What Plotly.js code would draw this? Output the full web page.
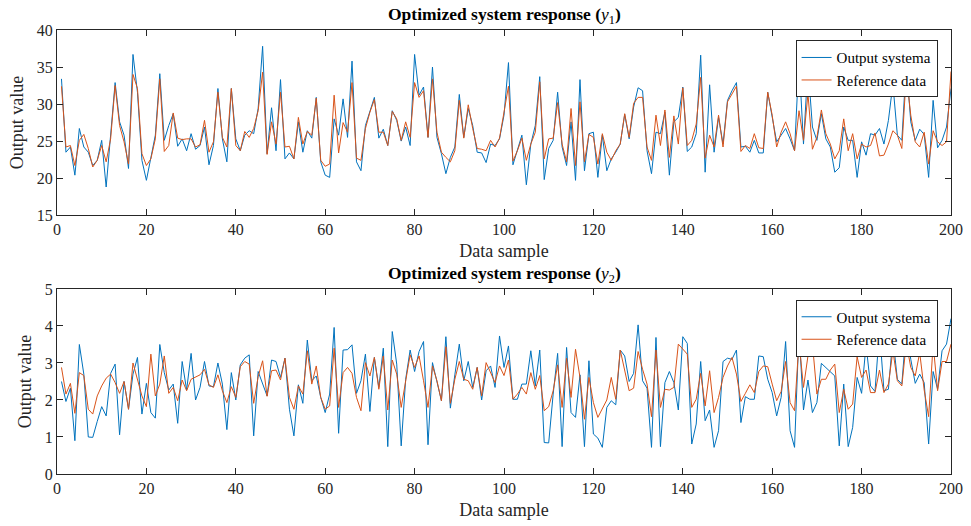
<!DOCTYPE html>
<html>
<head>
<meta charset="utf-8">
<script src="https://cdn.plot.ly/plotly-3.0.1.min.js"></script>
<style>html,body{margin:0;padding:0;background:#fff;}#chart{width:971px;height:526px;}</style>
</head>
<body>
<div id="chart"></div>
<script>
// Top panel (y1)
const y1Output = [33.4,23.5,24.2,20.4,26.7,24.2,23.5,21.7,22.4,25.1,18.8,25.8,32.9,27.6,25.8,21.3,36.7,31.6,22.4,19.7,
22.6,25.8,34.1,25.1,27.1,28.7,24.3,25.3,23.7,26.0,23.9,24.4,26.9,21.8,24.4,32.1,25.3,22.2,32.1,25.3,
23.7,25.8,26.4,26.0,29.4,37.8,23.3,29.5,23.7,33.3,22.6,23.4,22.6,27.6,23.5,26.4,25.4,30.9,22.2,20.4,
20.1,28.0,25.8,30.7,25.5,35.8,22.2,21.0,27.1,29.1,30.9,25.4,26.6,24.4,29.1,27.8,25.0,26.9,24.4,36.7,
31.2,32.3,25.5,35.0,25.5,23.3,20.6,22.8,24.2,31.3,25.5,29.4,27.1,23.5,23.4,22.1,24.6,24.4,25.3,28.5,
35.6,21.8,23.7,25.8,19.1,24.6,27.1,33.7,19.8,24.0,25.1,31.6,24.2,21.7,27.6,19.7,33.3,21.0,26.0,26.2,
20.1,25.8,21.0,22.6,23.5,24.6,28.6,25.3,29.6,32.2,31.8,23.7,20.6,26.2,26.0,28.9,20.4,27.6,28.2,32.3,
23.6,24.2,26.0,36.6,20.8,32.6,23.5,28.2,24.6,30.5,31.8,32.9,24.2,24.3,23.5,25.1,23.4,23.4,31.6,28.0,
24.9,25.8,26.7,25.3,23.7,36.1,24.6,35.2,26.9,25.1,28.7,25.3,24.2,20.8,21.4,26.9,25.1,25.1,20.1,24.9,
23.1,26.0,25.8,26.7,24.6,27.8,32.7,25.8,25.1,35.5,27.6,25.1,26.6,25.9,20.1,30.5,24.1,25.1,26.9,32.1];
const y1Reference = [32.4,24.2,24.4,21.7,25.1,25.9,24.0,21.5,22.4,24.4,22.2,25.3,32.5,27.1,24.9,21.9,34.0,32.1,23.3,21.7,
22.6,25.3,33.4,23.6,24.4,28.8,25.4,25.2,25.3,25.3,24.2,24.5,27.8,23.5,24.9,31.6,25.5,24.2,32.1,24.4,
23.7,26.3,25.5,26.7,29.1,34.3,23.2,27.6,24.6,31.6,24.2,24.3,22.6,28.2,24.6,26.3,25.8,30.8,22.4,21.6,
21.9,31.2,23.4,27.5,26.2,32.9,22.7,22.4,26.7,28.9,30.6,26.2,26.2,24.4,29.0,28.0,25.1,27.6,25.5,32.9,
30.9,31.8,25.5,33.4,26.2,23.5,22.8,22.2,23.7,30.5,25.4,29.9,26.7,24.0,23.9,23.7,25.1,24.2,25.4,28.8,
32.4,22.3,23.7,25.4,22.4,24.6,26.2,33.0,22.6,25.3,25.4,30.2,24.6,22.2,29.4,21.7,30.3,22.2,25.9,25.5,
21.9,26.0,23.5,22.4,23.7,24.6,28.7,25.5,30.1,30.9,30.9,24.2,22.4,28.5,24.4,29.2,22.8,28.4,24.6,32.2,
24.4,25.1,27.3,33.6,22.7,25.8,24.2,28.5,24.2,30.3,31.3,32.4,23.6,24.4,24.0,26.0,24.1,24.0,31.6,28.5,
24.2,26.2,27.6,26.0,23.7,29.1,25.1,31.4,23.9,25.5,29.2,26.0,24.6,22.6,23.7,28.0,23.7,26.0,22.6,24.6,
24.2,24.4,26.1,23.0,23.1,24.6,26.4,25.8,24.0,34.0,28.5,24.9,24.2,26.2,21.9,26.4,24.9,24.4,24.9,34.4];

// Bottom panel (y2)
const y2Output = [2.50,1.96,2.32,0.90,3.50,2.70,1.00,0.99,1.42,1.82,1.57,2.72,2.97,1.06,2.50,1.75,2.70,3.15,1.62,2.45,
1.66,1.51,3.50,2.74,2.27,2.43,1.37,3.04,2.27,3.26,2.00,2.34,3.04,2.38,2.36,3.00,2.43,1.20,2.74,2.00,
2.95,3.13,3.22,1.03,2.77,2.43,2.11,3.08,3.04,2.61,3.13,1.75,1.03,2.41,1.91,3.62,2.52,2.65,2.07,1.66,
2.16,3.96,1.10,3.35,3.36,3.49,2.18,2.52,3.24,1.69,3.15,2.34,3.40,0.74,3.85,2.97,0.76,2.56,3.35,2.77,
3.31,3.58,0.79,3.01,2.47,1.98,3.71,1.78,2.68,3.51,2.52,3.04,2.34,2.88,2.00,2.79,2.92,2.34,3.73,2.88,
3.46,2.02,2.02,2.43,2.43,3.33,2.38,3.35,0.85,0.84,2.16,3.26,0.74,3.42,1.66,1.53,2.68,0.74,3.06,1.08,
0.97,0.72,1.80,1.98,1.87,3.35,3.19,2.50,2.72,4.03,2.52,2.32,0.72,3.69,0.74,2.47,2.77,2.47,1.73,3.71,
3.53,0.81,1.35,3.04,1.44,1.73,0.72,1.17,3.04,3.13,3.10,3.35,1.39,2.09,2.02,2.02,3.19,3.17,2.56,2.20,
1.57,2.07,3.58,1.17,0.72,3.87,1.73,2.54,1.66,1.93,2.99,2.88,2.77,2.65,0.76,2.43,0.74,1.26,2.61,2.18,
3.49,2.38,2.23,3.90,2.25,2.29,3.69,2.56,2.43,3.95,3.10,2.45,2.70,2.47,0.81,2.77,2.29,3.33,3.51,4.20];
const y2Reference = [2.88,2.16,2.45,1.64,2.74,2.66,1.75,1.62,2.11,2.38,2.59,2.70,2.47,2.18,2.50,1.75,3.00,2.52,2.11,1.82,
3.24,2.11,2.43,3.19,2.18,2.34,1.98,2.54,2.25,2.56,2.61,2.68,2.83,2.41,2.34,2.68,2.25,1.93,2.36,2.07,
2.90,3.04,2.97,1.91,2.63,3.06,2.10,2.79,2.81,2.54,3.13,2.07,1.75,2.38,2.16,3.33,2.43,2.92,2.07,1.75,
1.84,3.40,1.80,2.74,2.88,2.72,2.07,1.71,3.01,2.65,3.15,2.29,3.19,1.73,3.08,2.70,1.80,2.47,3.22,2.88,
3.19,2.52,1.80,2.92,2.52,1.98,3.44,1.91,2.56,3.04,2.56,2.52,2.29,2.88,2.11,3.01,2.72,2.47,2.92,2.66,
3.08,2.02,2.16,2.34,2.16,2.74,2.29,2.66,1.71,1.82,2.25,2.95,1.80,3.13,2.07,3.37,2.61,1.48,2.61,1.93,
1.53,1.75,2.00,2.61,2.02,3.35,2.83,2.25,2.32,3.31,2.83,2.43,1.55,3.35,1.80,2.29,2.27,2.34,3.51,3.37,
3.24,1.80,2.02,2.72,1.84,2.79,1.66,2.07,2.61,2.92,3.15,2.70,1.96,2.18,2.41,2.20,2.77,2.92,2.90,2.43,
1.98,2.23,3.04,1.93,1.71,3.58,2.34,3.19,3.53,2.16,2.56,2.56,2.81,2.97,1.66,2.29,1.75,1.89,3.17,2.61,
2.81,2.20,2.20,2.81,2.20,2.43,3.33,2.52,2.38,3.55,2.88,2.65,3.28,2.27,1.55,3.51,2.25,3.04,3.04,3.51];

const samples = y1Output.map((_, i) => i + 1);
const xTicks = [0,20,40,60,80,100,120,140,160,180,200];
const y1Ticks = [15,20,25,30,35,40];
const y2Ticks = [0,1,2,3,4,5];

const blue = '#0072BD', orange = '#D95319';
const font = 'Liberation Serif, Times New Roman, serif';
const axCol = '#262626';

const traces = [
  {x: samples, y: y1Output, type: 'scatter', mode: 'lines', name: 'Output systema', line: {color: blue, width: 1}, xaxis: 'x', yaxis: 'y', legend: 'legend'},
  {x: samples, y: y1Reference, type: 'scatter', mode: 'lines', name: 'Reference data', line: {color: orange, width: 1}, xaxis: 'x', yaxis: 'y', legend: 'legend'},
  {x: samples, y: y2Output, type: 'scatter', mode: 'lines', name: 'Output systema', line: {color: blue, width: 1}, xaxis: 'x2', yaxis: 'y2', legend: 'legend2'},
  {x: samples, y: y2Reference, type: 'scatter', mode: 'lines', name: 'Reference data', line: {color: orange, width: 1}, xaxis: 'x2', yaxis: 'y2', legend: 'legend2'}
];

function xAxis(anchor) {
  return {
    anchor: anchor, range: [0, 200], tickvals: xTicks, ticks: 'inside', ticklen: 6,
    tickcolor: axCol, linecolor: axCol, linewidth: 1, mirror: 'ticks', showgrid: false, zeroline: false,
    tickfont: {family: font, size: 16, color: axCol},
    title: {text: 'Data sample', font: {family: font, size: 18, color: axCol}, standoff: 7}
  };
}
function yAxis(anchor, range, ticks, domain) {
  return {
    anchor: anchor, domain: domain, range: range, tickvals: ticks, ticks: 'inside', ticklen: 6,
    tickcolor: axCol, linecolor: axCol, linewidth: 1, mirror: 'ticks', showgrid: false, zeroline: false,
    tickfont: {family: font, size: 16, color: axCol},
    title: {text: 'Output value', font: {family: font, size: 18, color: axCol}, standoff: 8}
  };
}

const legendBase = {
  xref: 'paper', yref: 'paper', xanchor: 'right', yanchor: 'top',
  bgcolor: 'rgba(255,255,255,1)', bordercolor: '#262626', borderwidth: 1,
  font: {family: font, size: 15, color: '#000'}, tracegroupgap: 0, itemwidth: 30
};

const layout = {
  width: 971, height: 526,
  margin: {l: 57, r: 20, t: 30, b: 52},
  paper_bgcolor: '#fff', plot_bgcolor: '#fff',
  showlegend: true,
  xaxis: xAxis('y'),
  yaxis: yAxis('x', [15, 40], y1Ticks, [0.583, 1]),
  xaxis2: xAxis('y2'),
  yaxis2: yAxis('x2', [0, 5], y2Ticks, [0, 0.4167]),
  legend: Object.assign({x: 0.985, y: 0.977}, legendBase),
  legend2: Object.assign({x: 0.985, y: 0.393}, legendBase),
  annotations: [
    {text: '<b>Optimized system response (</b><i>y</i><sub>1</sub><b>)</b>', xref: 'paper', yref: 'paper', x: 0.5, y: 1, yanchor: 'bottom', yshift: 1, showarrow: false, font: {family: font, size: 17.5, color: '#000'}},
    {text: '<b>Optimized system response (</b><i>y</i><sub>2</sub><b>)</b>', xref: 'paper', yref: 'paper', x: 0.5, y: 0.4167, yanchor: 'bottom', yshift: 1, showarrow: false, font: {family: font, size: 17.5, color: '#000'}}
  ]
};

Plotly.newPlot('chart', traces, layout, {displayModeBar: false, staticPlot: true});
</script>
</body>
</html>
